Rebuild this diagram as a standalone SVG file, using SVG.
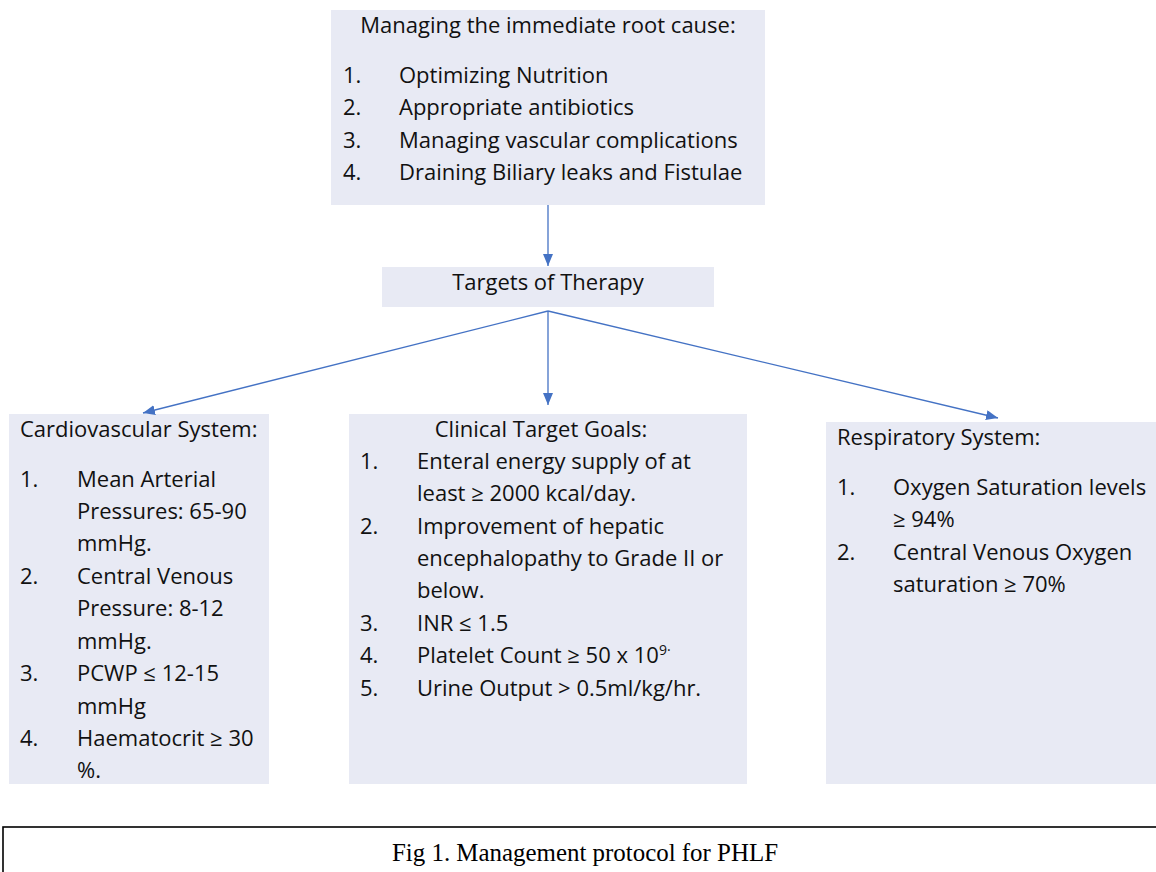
<svg xmlns="http://www.w3.org/2000/svg" width="1156" height="872" viewBox="0 0 1156 872">
<defs>
<style>
.box{fill:#E8EAF4;}
.t{font-family:"Open Sans","Liberation Sans",sans-serif;font-size:22px;fill:#111;}
.c{text-anchor:middle;}
.con{stroke:#4472C4;stroke-width:1.3;fill:none;}
.cap{font-family:"Liberation Serif","Times New Roman",serif;font-size:25px;fill:#000;text-anchor:middle;}
</style>
<marker id="ah" viewBox="0 0 12 10" refX="12" refY="5" markerWidth="12" markerHeight="10" markerUnits="userSpaceOnUse" orient="auto">
<path d="M0,0 L12,5 L0,10 Z" fill="#4472C4"/>
</marker>
</defs>
<rect width="1156" height="872" fill="#fff"/>
<g id="root-cause">
<rect class="box" x="331" y="10" width="434" height="195"/>
<text class="t c" x="548" y="33">Managing the immediate root cause:</text>
<text class="t" x="343" y="83">1.</text><text class="t" x="399" y="83">Optimizing Nutrition</text>
<text class="t" x="343" y="115">2.</text><text class="t" x="399" y="115">Appropriate antibiotics</text>
<text class="t" x="343" y="148">3.</text><text class="t" x="399" y="148">Managing vascular complications</text>
<text class="t" x="343" y="180">4.</text><text class="t" x="399" y="180">Draining Biliary leaks and Fistulae</text>
</g>
<g id="targets">
<rect class="box" x="382" y="267" width="332" height="40"/>
<text class="t c" x="548" y="290">Targets of Therapy</text>
</g>
<g id="cardio">
<rect class="box" x="9" y="414" width="260" height="370"/>
<text class="t" x="20" y="437">Cardiovascular System:</text>
<text class="t" x="20" y="487">1.</text><text class="t" x="77" y="487">Mean Arterial</text>
<text class="t" x="77" y="519">Pressures: 65-90</text>
<text class="t" x="77" y="551">mmHg.</text>
<text class="t" x="20" y="584">2.</text><text class="t" x="77" y="584">Central Venous</text>
<text class="t" x="77" y="616">Pressure: 8-12</text>
<text class="t" x="77" y="649">mmHg.</text>
<text class="t" x="20" y="681">3.</text><text class="t" x="77" y="681">PCWP ≤ 12-15</text>
<text class="t" x="77" y="714">mmHg</text>
<text class="t" x="20" y="746">4.</text><text class="t" x="77" y="746">Haematocrit ≥ 30</text>
<text class="t" x="77" y="778">%.</text>
</g>
<g id="clinical">
<rect class="box" x="349" y="414" width="398" height="370"/>
<text class="t c" x="541" y="437">Clinical Target Goals:</text>
<text class="t" x="360" y="469">1.</text><text class="t" x="417" y="469">Enteral energy supply of at</text>
<text class="t" x="417" y="501">least ≥ 2000 kcal/day.</text>
<text class="t" x="360" y="534">2.</text><text class="t" x="417" y="534">Improvement of hepatic</text>
<text class="t" x="417" y="566">encephalopathy to Grade II or</text>
<text class="t" x="417" y="598">below.</text>
<text class="t" x="360" y="631">3.</text><text class="t" x="417" y="631">INR ≤ 1.5</text>
<text class="t" x="360" y="663">4.</text><text class="t" x="417" y="663">Platelet Count ≥ 50 x 10<tspan font-size="14" dy="-8">9·</tspan></text>
<text class="t" x="360" y="696">5.</text><text class="t" x="417" y="696">Urine Output &gt; 0.5ml/kg/hr.</text>
</g>
<g id="respiratory">
<rect class="box" x="826" y="422" width="330" height="362"/>
<text class="t" x="837" y="445">Respiratory System:</text>
<text class="t" x="837" y="495">1.</text><text class="t" x="893" y="495">Oxygen Saturation levels</text>
<text class="t" x="893" y="527">≥ 94%</text>
<text class="t" x="837" y="560">2.</text><text class="t" x="893" y="560">Central Venous Oxygen</text>
<text class="t" x="893" y="592">saturation ≥ 70%</text>
</g>
<g id="connectors">
<line class="con" x1="548" y1="205" x2="548" y2="266" marker-end="url(#ah)"/>
<line class="con" x1="548" y1="311" x2="143" y2="413" marker-end="url(#ah)"/>
<line class="con" x1="548" y1="311" x2="548" y2="405" marker-end="url(#ah)"/>
<line class="con" x1="548" y1="311" x2="998" y2="418" marker-end="url(#ah)"/>
</g>
<g id="caption">
<rect x="3" y="827" width="1160" height="60" fill="none" stroke="#000" stroke-width="1.6"/>
<text class="cap" x="585" y="861" textLength="386" lengthAdjust="spacingAndGlyphs">Fig 1. Management protocol for PHLF</text>
</g>
</svg>
